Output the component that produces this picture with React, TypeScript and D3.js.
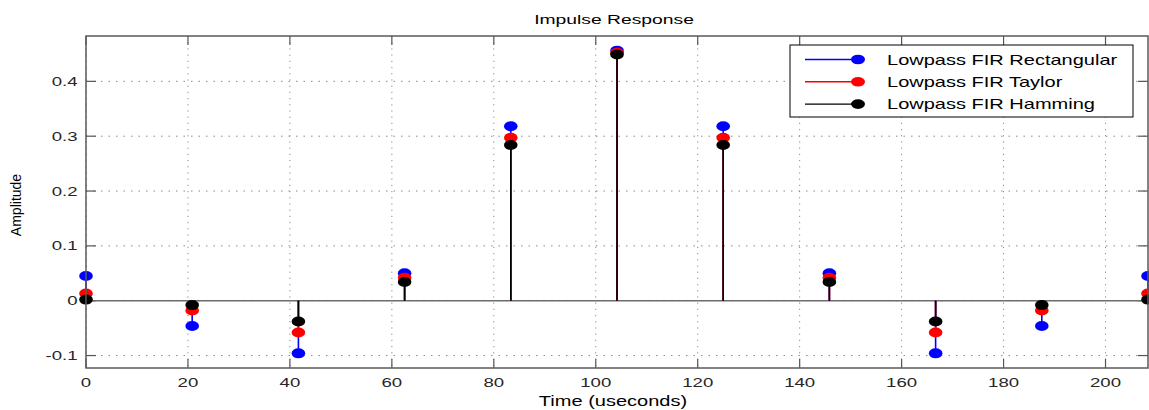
import React from "react";
import * as d3 from "d3";

const times = [0, 20.83, 41.67, 62.5, 83.33, 104.17, 125, 145.83, 166.67, 187.5, 208.33];
const rectangular = [0.045, -0.046, -0.096, 0.05, 0.318, 0.456, 0.318, 0.05, -0.096, -0.046, 0.045];
const taylor = [0.013, -0.018, -0.058, 0.042, 0.297, 0.452, 0.297, 0.042, -0.058, -0.018, 0.013];
const hamming = [0.002, -0.008, -0.038, 0.034, 0.284, 0.449, 0.284, 0.034, -0.038, -0.008, 0.002];
const seriesNames = ["Lowpass FIR Rectangular", "Lowpass FIR Taylor", "Lowpass FIR Hamming"];
const seriesColors = ["#0000ff", "#ff0000", "#000000"];
const xTicks = [0, 20, 40, 60, 80, 100, 120, 140, 160, 180, 200];
const yTicks = [-0.1, 0, 0.1, 0.2, 0.3, 0.4];
const yTickLabels = ["-0.1", "0", "0.1", "0.2", "0.3", "0.4"];

const W = 1149;
const H = 410;
const L = 86, R = 1148, T = 36, B = 368;
const SX = 1.43;
const FONT = "'Liberation Sans', Arial, Helvetica, sans-serif";

export default function App() {
  const x = d3.scaleLinear().domain([0, 208.333]).range([L, R]);
  const y = d3.scaleLinear().domain([-0.1227, 0.4827]).range([B, T]);
  const series = [rectangular, taylor, hamming];

  const stxt = (
    key: string,
    px: number,
    py: number,
    s: string,
    anchor: "start" | "middle" | "end",
    size: number,
    fill = "#262626"
  ) => (
    <text
      key={key}
      transform={`translate(${px},${py}) scale(${SX},1)`}
      textAnchor={anchor}
      fontSize={size}
      fontFamily={FONT}
      fill={fill}
    >
      {s}
    </text>
  );

  return (
    <svg
      width={W}
      height={H}
      style={{ position: "absolute", left: 0, top: 0, background: "#fff" }}
    >
      <rect x={0} y={0} width={W} height={H} fill="#fff" />
      <rect x={L} y={T} width={R - L} height={B - T} fill="#fff" />
      {/* grid */}
      {xTicks.map((t) => (
        <line
          key={"gx" + t}
          x1={x(t)}
          x2={x(t)}
          y1={T}
          y2={B}
          stroke="#8a8a8a"
          strokeWidth={1}
          strokeDasharray="1.2,5"
        />
      ))}
      {yTicks.map((t) => (
        <line
          key={"gy" + t}
          x1={L}
          x2={R}
          y1={y(t)}
          y2={y(t)}
          stroke="#8a8a8a"
          strokeWidth={1}
          strokeDasharray="1.5,6"
        />
      ))}
      {/* ticks */}
      {xTicks.map((t) => (
        <g key={"tx" + t}>
          <line x1={x(t)} x2={x(t)} y1={B} y2={B - 9} stroke="#555" strokeWidth={1.2} />
          <line x1={x(t)} x2={x(t)} y1={T} y2={T + 9} stroke="#555" strokeWidth={1.2} />
        </g>
      ))}
      {yTicks.map((t) => (
        <g key={"ty" + t}>
          <line x1={L} x2={L + 10} y1={y(t)} y2={y(t)} stroke="#555" strokeWidth={1.2} />
          <line x1={R} x2={R - 10} y1={y(t)} y2={y(t)} stroke="#555" strokeWidth={1.2} />
        </g>
      ))}
      {/* baseline */}
      <line x1={L} x2={R} y1={y(0)} y2={y(0)} stroke="#6e6e6e" strokeWidth={1.5} />
      {/* series */}
      {series.map((vals, si) => (
        <g key={"s" + si}>
          {vals.map((v, i) => (
            <line
              key={"st" + i}
              x1={x(times[i])}
              x2={x(times[i])}
              y1={y(0)}
              y2={y(v)}
              stroke={seriesColors[si]}
              strokeWidth={1.6}
            />
          ))}
          {vals.map((v, i) => (
            <ellipse
              key={"m" + i}
              cx={x(times[i])}
              cy={y(v)}
              rx={6.8}
              ry={5}
              fill={seriesColors[si]}
            />
          ))}
        </g>
      ))}
      {/* box */}
      <rect x={L} y={T} width={R - L} height={B - T} fill="none" stroke="#5a5a5a" strokeWidth={1.5} />
      {/* tick labels */}
      {xTicks.map((t) => stxt("lx" + t, x(t), 386.5, String(t), "middle", 13))}
      {yTicks.map((t, i) => stxt("ly" + t, 77.5, y(t) + 4.6, yTickLabels[i], "end", 13))}
      {/* title & labels */}
      {stxt("title", 614, 24, "Impulse Response", "middle", 13.5, "#000")}
      {stxt("xlabel", 613, 406, "Time (useconds)", "middle", 14, "#000")}
      <text
        transform={`translate(21,205) rotate(-90)`}
        textAnchor="middle"
        fontSize={14}
        fontFamily={FONT}
        fill="#000"
      >
        Amplitude
      </text>
      {/* legend */}
      <rect x={790} y={45} width={343} height={72} fill="#fff" stroke="#000" strokeWidth={1} />
      {seriesNames.map((name, i) => {
        const cy = 59.5 + i * 22.3;
        return (
          <g key={"lg" + i}>
            <line x1={805} x2={858} y1={cy} y2={cy} stroke={seriesColors[i]} strokeWidth={1.4} />
            <ellipse cx={858} cy={cy} rx={7} ry={4.8} fill={seriesColors[i]} />
            {stxt("lt" + i, 887, cy + 5, name, "start", 14, "#000")}
          </g>
        );
      })}
    </svg>
  );
}
